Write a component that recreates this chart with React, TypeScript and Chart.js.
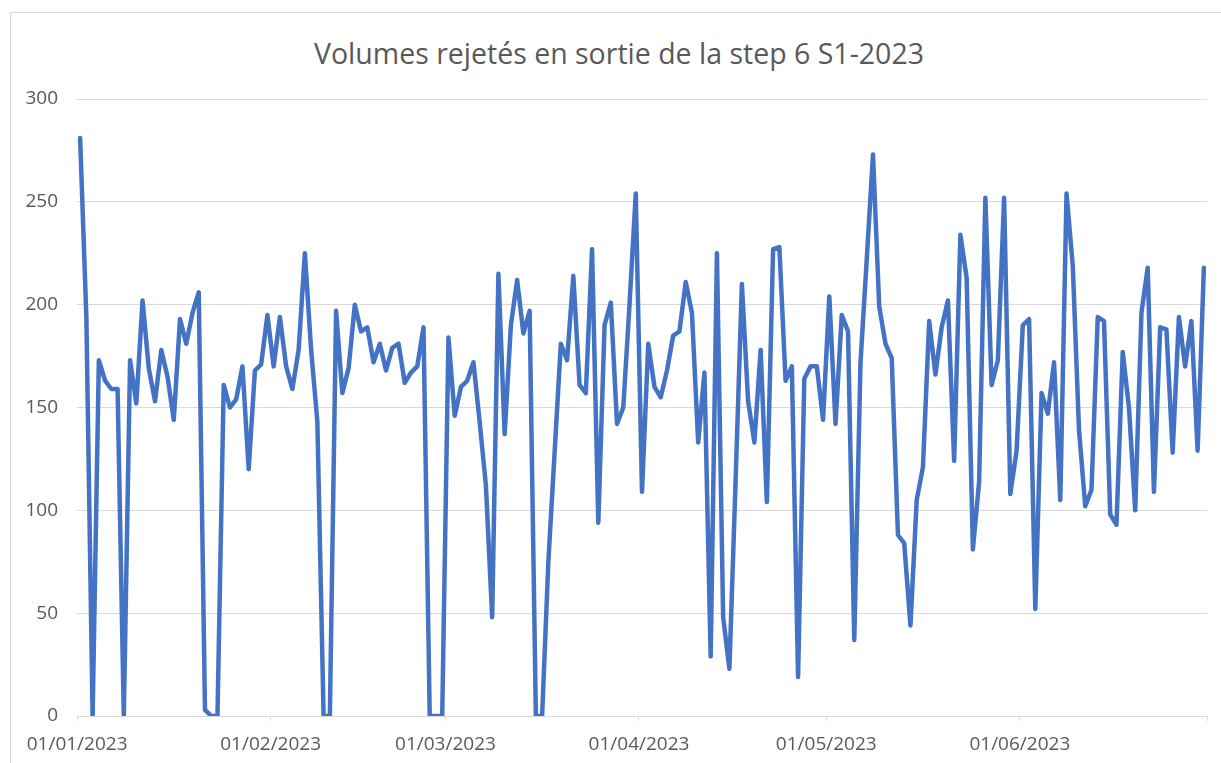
import React, { useEffect, useRef } from "react";
import { Chart, registerables } from "chart.js";

Chart.register(...registerables);

const TITLE = "Volumes rejetés en sortie de la step 6 S1-2023";
const YEAR = 2023;
const MONTH_LENGTHS = [31, 28, 31, 30, 31, 30];

const janValues = [281, 194, 0, 173, 163, 159, 159, 0, 173, 152, 202, 169, 153, 178, 165, 144, 193, 181, 196, 206, 3, 0, 0, 161, 150, 154, 170, 120, 168, 171, 195];
const febValues = [170, 194, 170, 159, 178, 225, 178, 143, 0, 0, 197, 157, 169, 200, 187, 189, 172, 181, 168, 179, 181, 162, 167, 170, 189, 0, 0, 0];
const marValues = [184, 146, 160, 163, 172, 143, 112, 48, 215, 137, 190, 212, 186, 197, 0, 0, 75, 128, 181, 173, 214, 161, 157, 227, 94, 190, 201, 142, 150, 200, 254];
const aprValues = [109, 181, 160, 155, 168, 185, 187, 211, 196, 133, 167, 29, 225, 48, 23, 115, 210, 153, 133, 178, 104, 227, 228, 163, 170, 19, 164, 170, 170, 144];
const mayValues = [204, 142, 195, 187, 37, 172, 222, 273, 199, 181, 174, 88, 84, 44, 105, 121, 192, 166, 189, 202, 124, 234, 213, 81, 114, 252, 161, 173, 252, 108, 129];
const junValues = [190, 193, 52, 157, 147, 172, 105, 254, 219, 139, 102, 110, 194, 192, 98, 93, 177, 150, 100, 196, 218, 109, 189, 188, 128, 194, 170, 192, 129, 218];

const Y_MIN = 0;
const Y_MAX = 300;
const Y_STEP = 50;

const pad = (n: number) => (n < 10 ? "0" + n : "" + n);

const dateLabels: string[] = [];
MONTH_LENGTHS.forEach((len, m) => {
  for (let d = 1; d <= len; d++) dateLabels.push(`${pad(d)}/${pad(m + 1)}/${YEAR}`);
});

const values: number[] = [
  ...janValues,
  ...febValues,
  ...marValues,
  ...aprValues,
  ...mayValues,
  ...junValues,
];

const isMonthStart = (i: number) => !!dateLabels[i] && dateLabels[i].startsWith("01/");

const TEXT = "#595959";
const GRID = "#d9d9d9";
const LINE = "#4472C4";
const FONT = "'Open Sans', 'DejaVu Sans', sans-serif";

export default function App() {
  const ref = useRef<HTMLCanvasElement>(null);

  useEffect(() => {
    if (!ref.current) return;
    const chart = new Chart(ref.current, {
      type: "line",
      data: {
        labels: dateLabels,
        datasets: [
          {
            data: values,
            borderColor: LINE,
            backgroundColor: LINE,
            borderWidth: 4.5,
            pointRadius: 0,
            tension: 0,
            borderJoinStyle: "round",
            borderCapStyle: "round",
            fill: false,
          },
        ],
      },
      options: {
        animation: false,
        responsive: false,
        devicePixelRatio: 1,
        layout: { padding: { left: 0, right: 14, top: 99, bottom: 0 } },
        plugins: {
          legend: { display: false },
          tooltip: { enabled: false },
          title: { display: false },
        },
        scales: {
          x: {
            type: "category",
            offset: true,
            grid: {
              display: true,
              offset: true,
              drawOnChartArea: false,
              drawTicks: true,
              tickLength: 5,
              color: (ctx: any) =>
                ctx.type !== "tick" || isMonthStart(ctx.index) ? GRID : "rgba(0,0,0,0)",
            },
            border: { display: true, color: GRID, width: 1 },
            ticks: {
              autoSkip: false,
              maxRotation: 0,
              minRotation: 0,
              padding: 12,
              labelOffset: -3,
              color: TEXT,
              font: { family: FONT, size: 19 },
              callback: (_v: any, i: number) => (isMonthStart(i) ? dateLabels[i] : ""),
            },
            afterFit: (s: any) => {
              s.height = 47;
            },
          },
          y: {
            min: Y_MIN,
            max: Y_MAX,
            grid: { color: GRID, drawTicks: false },
            border: { display: false },
            ticks: {
              stepSize: Y_STEP,
              padding: 19,
              color: TEXT,
              font: { family: FONT, size: 19 },
            },
            afterFit: (s: any) => {
              s.width = 77;
            },
          },
        },
      },
    } as any);
    return () => chart.destroy();
  }, []);

  return (
    <div
      style={{
        position: "fixed",
        left: 0,
        top: 0,
        width: 1221,
        height: 763,
        background: "#fff",
        overflow: "hidden",
      }}
    >
      <div
        style={{
          position: "absolute",
          left: 10,
          top: 12,
          width: 1400,
          height: 1000,
          border: `1px solid ${GRID}`,
          boxSizing: "border-box",
        }}
      />
      <div
        style={{
          position: "absolute",
          left: 0,
          top: 36,
          width: 1238,
          textAlign: "center",
          fontFamily: FONT,
          fontSize: 28.5,
          lineHeight: "34px",
          color: TEXT,
          whiteSpace: "nowrap",
        }}
      >
        {TITLE}
      </div>
      <canvas
        ref={ref}
        width={1221}
        height={763}
        style={{ position: "absolute", left: 0, top: 0, width: 1221, height: 763 }}
      />
    </div>
  );
}
